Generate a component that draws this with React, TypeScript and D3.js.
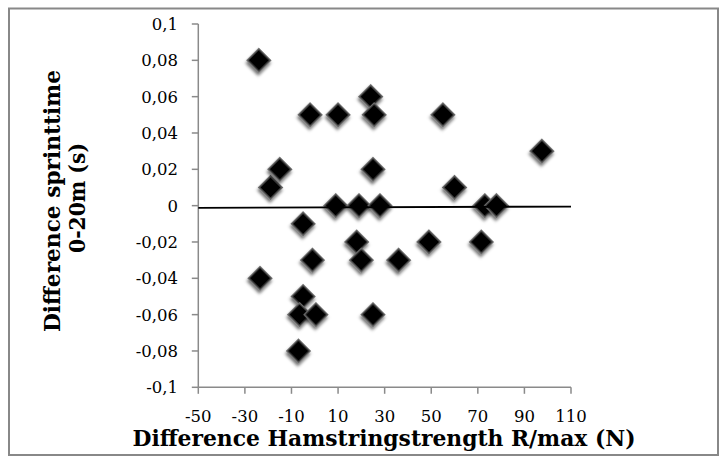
import React from "react";
import * as d3 from "d3";

const xValues = [-24, -19, -15, -2, 10, 24, 25.5, 25, 55, 9, 19, 28, -5, -1, 18, 20, 36, 49, -23.5, -5, -6.5, 0.5, 25, -7, 97.5, 60, 73, 78, 71.5];
const yValues = [0.08, 0.01, 0.02, 0.05, 0.05, 0.06, 0.05, 0.02, 0.05, 0, 0, 0, -0.01, -0.03, -0.02, -0.03, -0.03, -0.02, -0.04, -0.05, -0.06, -0.06, -0.06, -0.08, 0.03, 0.01, 0, 0, -0.02];

const xTicks = [-50, -30, -10, 10, 30, 50, 70, 90, 110];
const yTicks = [0.1, 0.08, 0.06, 0.04, 0.02, 0, -0.02, -0.04, -0.06, -0.08, -0.1];
const yTickLabels = ["0,1", "0,08", "0,06", "0,04", "0,02", "0", "-0,02", "-0,04", "-0,06", "-0,08", "-0,1"];

const trendX = [-50, 110];
const trendY = [-0.0012, -0.0005];

const xTitle = "Difference Hamstringstrength R/max (N)";
const yTitleLines = ["Difference sprinttime", "0-20m (s)"];

export default function App() {
  const W = 719, H = 458;
  const x = d3.scaleLinear().domain([-50, 110]).range([198.3, 571]);
  const y = d3.scaleLinear().domain([-0.1, 0.1]).range([387.3, 24]);
  const axisColor = "#8a8a8a";
  const tickFont = "'DejaVu Serif', serif";
  const titleFont = "'DejaVu Serif', serif";
  const diamond = d3.symbol().type(d3.symbolSquare).size(275)() as string;
  const trendLine = d3.line<number>().x((d, i) => x(trendX[i])).y((d) => y(d))(trendY) as string;

  return (
    <svg width={W} height={H} style={{ position: "fixed", left: 0, top: 0, background: "#fff" }}>
      <defs>
        <filter id="shadow" x="-50%" y="-50%" width="200%" height="200%">
          <feDropShadow dx="1.5" dy="2.5" stdDeviation="1.6" floodColor="#000" floodOpacity="0.55" />
        </filter>
      </defs>
      <rect x={0} y={0} width={W} height={H} fill="#fff" />
      <rect x={9} y={8.5} width={709} height={446.5} fill="none" stroke="#888" strokeWidth={2} />

      {/* axes */}
      <line x1={x(-50)} x2={x(-50)} y1={y(0.1)} y2={y(-0.1)} stroke={axisColor} strokeWidth={1.5} />
      <line x1={x(-50)} x2={x(110)} y1={y(-0.1)} y2={y(-0.1)} stroke={axisColor} strokeWidth={1.5} />
      {yTicks.map((t, i) => (
        <g key={"y" + i}>
          <line x1={x(-50) - 6.5} x2={x(-50)} y1={y(t)} y2={y(t)} stroke={axisColor} strokeWidth={1.5} />
          <text x={178} y={y(t)} dy="0.36em" textAnchor="end" fontFamily={tickFont} fontSize={16.5} fill="#000">
            {yTickLabels[i]}
          </text>
        </g>
      ))}
      {xTicks.map((t, i) => (
        <g key={"x" + i}>
          <line x1={x(t)} x2={x(t)} y1={y(-0.1)} y2={y(-0.1) + 6.5} stroke={axisColor} strokeWidth={1.5} />
          <text x={x(t)} y={422} textAnchor="middle" fontFamily={tickFont} fontSize={16.5} fill="#000">
            {t}
          </text>
        </g>
      ))}

      {/* points */}
      {xValues.map((xv, i) => (
        <path
          key={"p" + i}
          d={diamond}
          transform={`translate(${x(xv)},${y(yValues[i])}) rotate(45)`}
          fill="#000"
          stroke="#6a6a6a"
          strokeWidth={1.5}
          filter="url(#shadow)"
        />
      ))}

      {/* trend line */}
      <path d={trendLine} stroke="#000" strokeWidth={1.8} fill="none" />

      {/* titles */}
      <text x={384} y={446} textAnchor="middle" fontFamily={titleFont} fontWeight="bold" fontSize={22}
        textLength={503} lengthAdjust="spacingAndGlyphs" fill="#000">
        {xTitle}
      </text>
      <text transform="translate(60,201) rotate(-90)" textAnchor="middle" fontFamily={titleFont} fontWeight="bold"
        fontSize={22} textLength={262} lengthAdjust="spacingAndGlyphs" fill="#000">
        {yTitleLines[0]}
      </text>
      <text transform="translate(84.5,198) rotate(-90)" textAnchor="middle" fontFamily={titleFont} fontWeight="bold"
        fontSize={22} textLength={110} lengthAdjust="spacingAndGlyphs" fill="#000">
        {yTitleLines[1]}
      </text>
    </svg>
  );
}
